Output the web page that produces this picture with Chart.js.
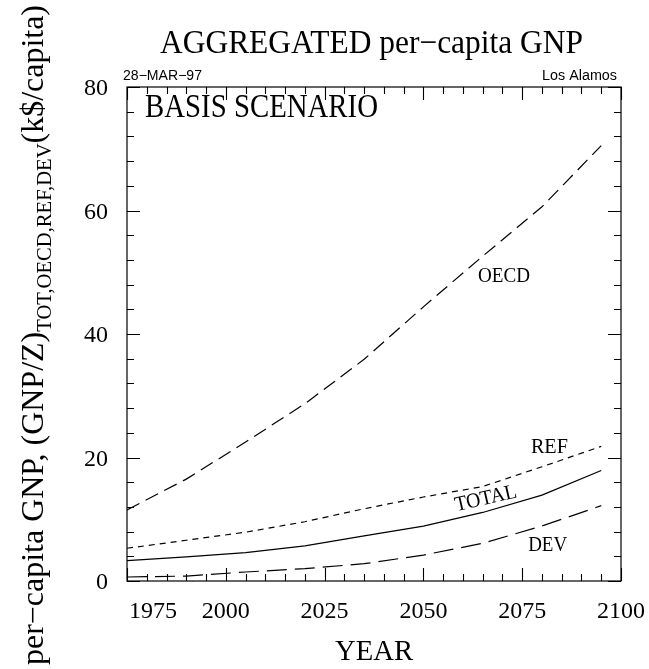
<!DOCTYPE html>
<html><head><meta charset="utf-8">
<script src="https://cdn.jsdelivr.net/npm/chart.js@4.4.0/dist/chart.umd.min.js"></script>
<style>html,body{margin:0;padding:0;background:#fff;overflow:hidden;} #wrap{width:649px;height:669px;position:relative;}</style>
</head><body><div id="wrap"><canvas id="c" width="649" height="669"></canvas></div>
<script>
// ---- data ----
const years = [1975, 1990, 2005, 2020, 2035, 2050, 2065, 2080, 2095];
const oecd  = [11.5, 16.5, 22.5, 28.7, 35.9, 44.4, 52.6, 60.6, 70.5];
const ref   = [5.3, 6.6, 7.9, 9.6, 11.7, 13.6, 15.3, 18.5, 21.8];
const total = [3.3, 3.9, 4.6, 5.7, 7.3, 8.9, 11.1, 13.9, 17.9];
const dev   = [0.65, 0.8, 1.46, 2.0, 2.8, 4.2, 6.1, 8.9, 12.2];
const xTickValues = [1975, 2000, 2025, 2050, 2075, 2100];
const xTickLabels = ['1975', '2000', '2025', '2050', '2075', '2100'];
const yTickValues = [0, 20, 40, 60, 80];
const yTickLabels = ['0', '20', '40', '60', '80'];
const seriesNames = ['OECD', 'REF', 'TOTAL', 'DEV'];

const SERIF = '"Liberation Serif", "Times New Roman", serif';
const SANS = '"Liberation Sans", Arial, sans-serif';

function pts(vals) { return years.map((y, i) => ({x: y, y: vals[i]})); }

function fitText(ctx, text, x, y, o) {
  ctx.save();
  ctx.font = o.size + 'px ' + (o.family || SERIF);
  const w = ctx.measureText(text).width;
  const sx = o.width ? o.width / w : 1;
  ctx.translate(x, y);
  if (o.rotate) ctx.rotate(o.rotate);
  ctx.scale(sx, 1);
  ctx.textAlign = o.align || 'left';
  ctx.textBaseline = o.baseline || 'alphabetic';
  ctx.fillStyle = '#000';
  ctx.fillText(text, 0, 0);
  ctx.restore();
}

const framePlugin = {
  id: 'frame',
  afterDraw(chart) {
    const ctx = chart.ctx;
    const xs = chart.scales.x, ys = chart.scales.y;
    const a = chart.chartArea;
    ctx.save();
    ctx.strokeStyle = '#000';
    ctx.lineWidth = 1.2;
    ctx.strokeRect(a.left, a.top, a.right - a.left, a.bottom - a.top);
    ctx.lineWidth = 1.1;
    ctx.beginPath();
    for (let yr = 1975; yr <= 2100; yr += 5) {
      const len = ((yr - 1975) % 25 === 0) ? 13 : 7;
      const px = Math.round(xs.getPixelForValue(yr)) + 0.5;
      ctx.moveTo(px, a.bottom); ctx.lineTo(px, a.bottom - len);
      ctx.moveTo(px, a.top); ctx.lineTo(px, a.top + len);
    }
    for (let v = 0; v <= 80; v += 4) {
      const len = (v % 20 === 0) ? 13 : 7;
      const py = Math.round(ys.getPixelForValue(v)) + 0.5;
      ctx.moveTo(a.left, py); ctx.lineTo(a.left + len, py);
      ctx.moveTo(a.right, py); ctx.lineTo(a.right - len, py);
    }
    ctx.stroke();
    ctx.restore();

    // y tick labels
    yTickValues.forEach((v, i) => {
      fitText(ctx, yTickLabels[i], a.left - 19, ys.getPixelForValue(v) + 8, {size: 24, align: 'right'});
    });
    // x tick labels
    xTickValues.forEach((v, i) => {
      const px = xs.getPixelForValue(v);
      if (i === 0) fitText(ctx, xTickLabels[i], a.left + 2, a.bottom + 37, {size: 24, align: 'left'});
      else fitText(ctx, xTickLabels[i], px, a.bottom + 37, {size: 24, align: 'center'});
    });
    // axis titles
    fitText(ctx, 'YEAR', (a.left + a.right) / 2, 660, {size: 30, width: 78, align: 'center'});
    fitText(ctx, 'AGGREGATED per\u2212capita GNP', 371.5, 53, {size: 33, width: 423, align: 'center'});
    fitText(ctx, 'BASIS SCENARIO', 145, 117, {size: 33, width: 233});
    fitText(ctx, '28\u2212MAR\u221297', 123, 80, {size: 14, family: SANS, width: 79});
    fitText(ctx, 'Los Alamos', 617, 80, {size: 14, family: SANS, width: 75, align: 'right'});

    // y axis title with subscript
    const p1 = 'per\u2212capita GNP, (GNP/Z)', p2 = 'TOT,OECD,REF,DEV', p3 = '(k$/capita)';
    const mainSize = 31, subSize = 20;
    ctx.save();
    ctx.font = mainSize + 'px ' + SERIF;
    const w1 = ctx.measureText(p1).width, w3 = ctx.measureText(p3).width;
    ctx.font = subSize + 'px ' + SERIF;
    const w2 = ctx.measureText(p2).width;
    const s = 660 / (w1 + w2 + w3);
    ctx.translate(43, 665);
    ctx.rotate(-Math.PI / 2);
    ctx.scale(s, 1);
    ctx.fillStyle = '#000';
    ctx.textBaseline = 'alphabetic';
    ctx.font = mainSize + 'px ' + SERIF;
    ctx.fillText(p1, 0, 0);
    ctx.fillText(p3, w1 + w2, 0);
    ctx.font = subSize + 'px ' + SERIF;
    ctx.fillText(p2, w1, 8);
    ctx.restore();

    // curve labels
    fitText(ctx, seriesNames[0], xs.getPixelForValue(2063.8), ys.getPixelForValue(48.4), {size: 21, width: 52});
    fitText(ctx, seriesNames[1], xs.getPixelForValue(2077.2), ys.getPixelForValue(20.7), {size: 21, width: 37});
    fitText(ctx, seriesNames[3], xs.getPixelForValue(2076.5), ys.getPixelForValue(4.86), {size: 21, width: 39});
    fitText(ctx, seriesNames[2], xs.getPixelForValue(2065.8), ys.getPixelForValue(13.3),
      {size: 21, width: 63, align: 'center', baseline: 'middle', rotate: -13 * Math.PI / 180});
  }
};

const common = {fill: false, borderColor: '#000', borderWidth: 1.2, pointRadius: 0, tension: 0};
new Chart(document.getElementById('c'), {
  type: 'line',
  data: {
    datasets: [
      Object.assign({label: seriesNames[0], data: pts(oecd), borderDash: [14, 7]}, common),
      Object.assign({label: seriesNames[1], data: pts(ref), borderDash: [6, 5]}, common),
      Object.assign({label: seriesNames[2], data: pts(total)}, common),
      Object.assign({label: seriesNames[3], data: pts(dev), borderDash: [20, 8]}, common)
    ]
  },
  options: {
    responsive: false,
    animation: false,
    devicePixelRatio: 1,
    layout: {padding: {left: 127, right: 28, top: 87, bottom: 88}},
    plugins: {legend: {display: false}, tooltip: {enabled: false}, title: {display: false}},
    scales: {
      x: {type: 'linear', min: 1975, max: 2100, display: false},
      y: {type: 'linear', min: 0, max: 80, display: false}
    }
  },
  plugins: [framePlugin]
});
</script>
</body></html>
